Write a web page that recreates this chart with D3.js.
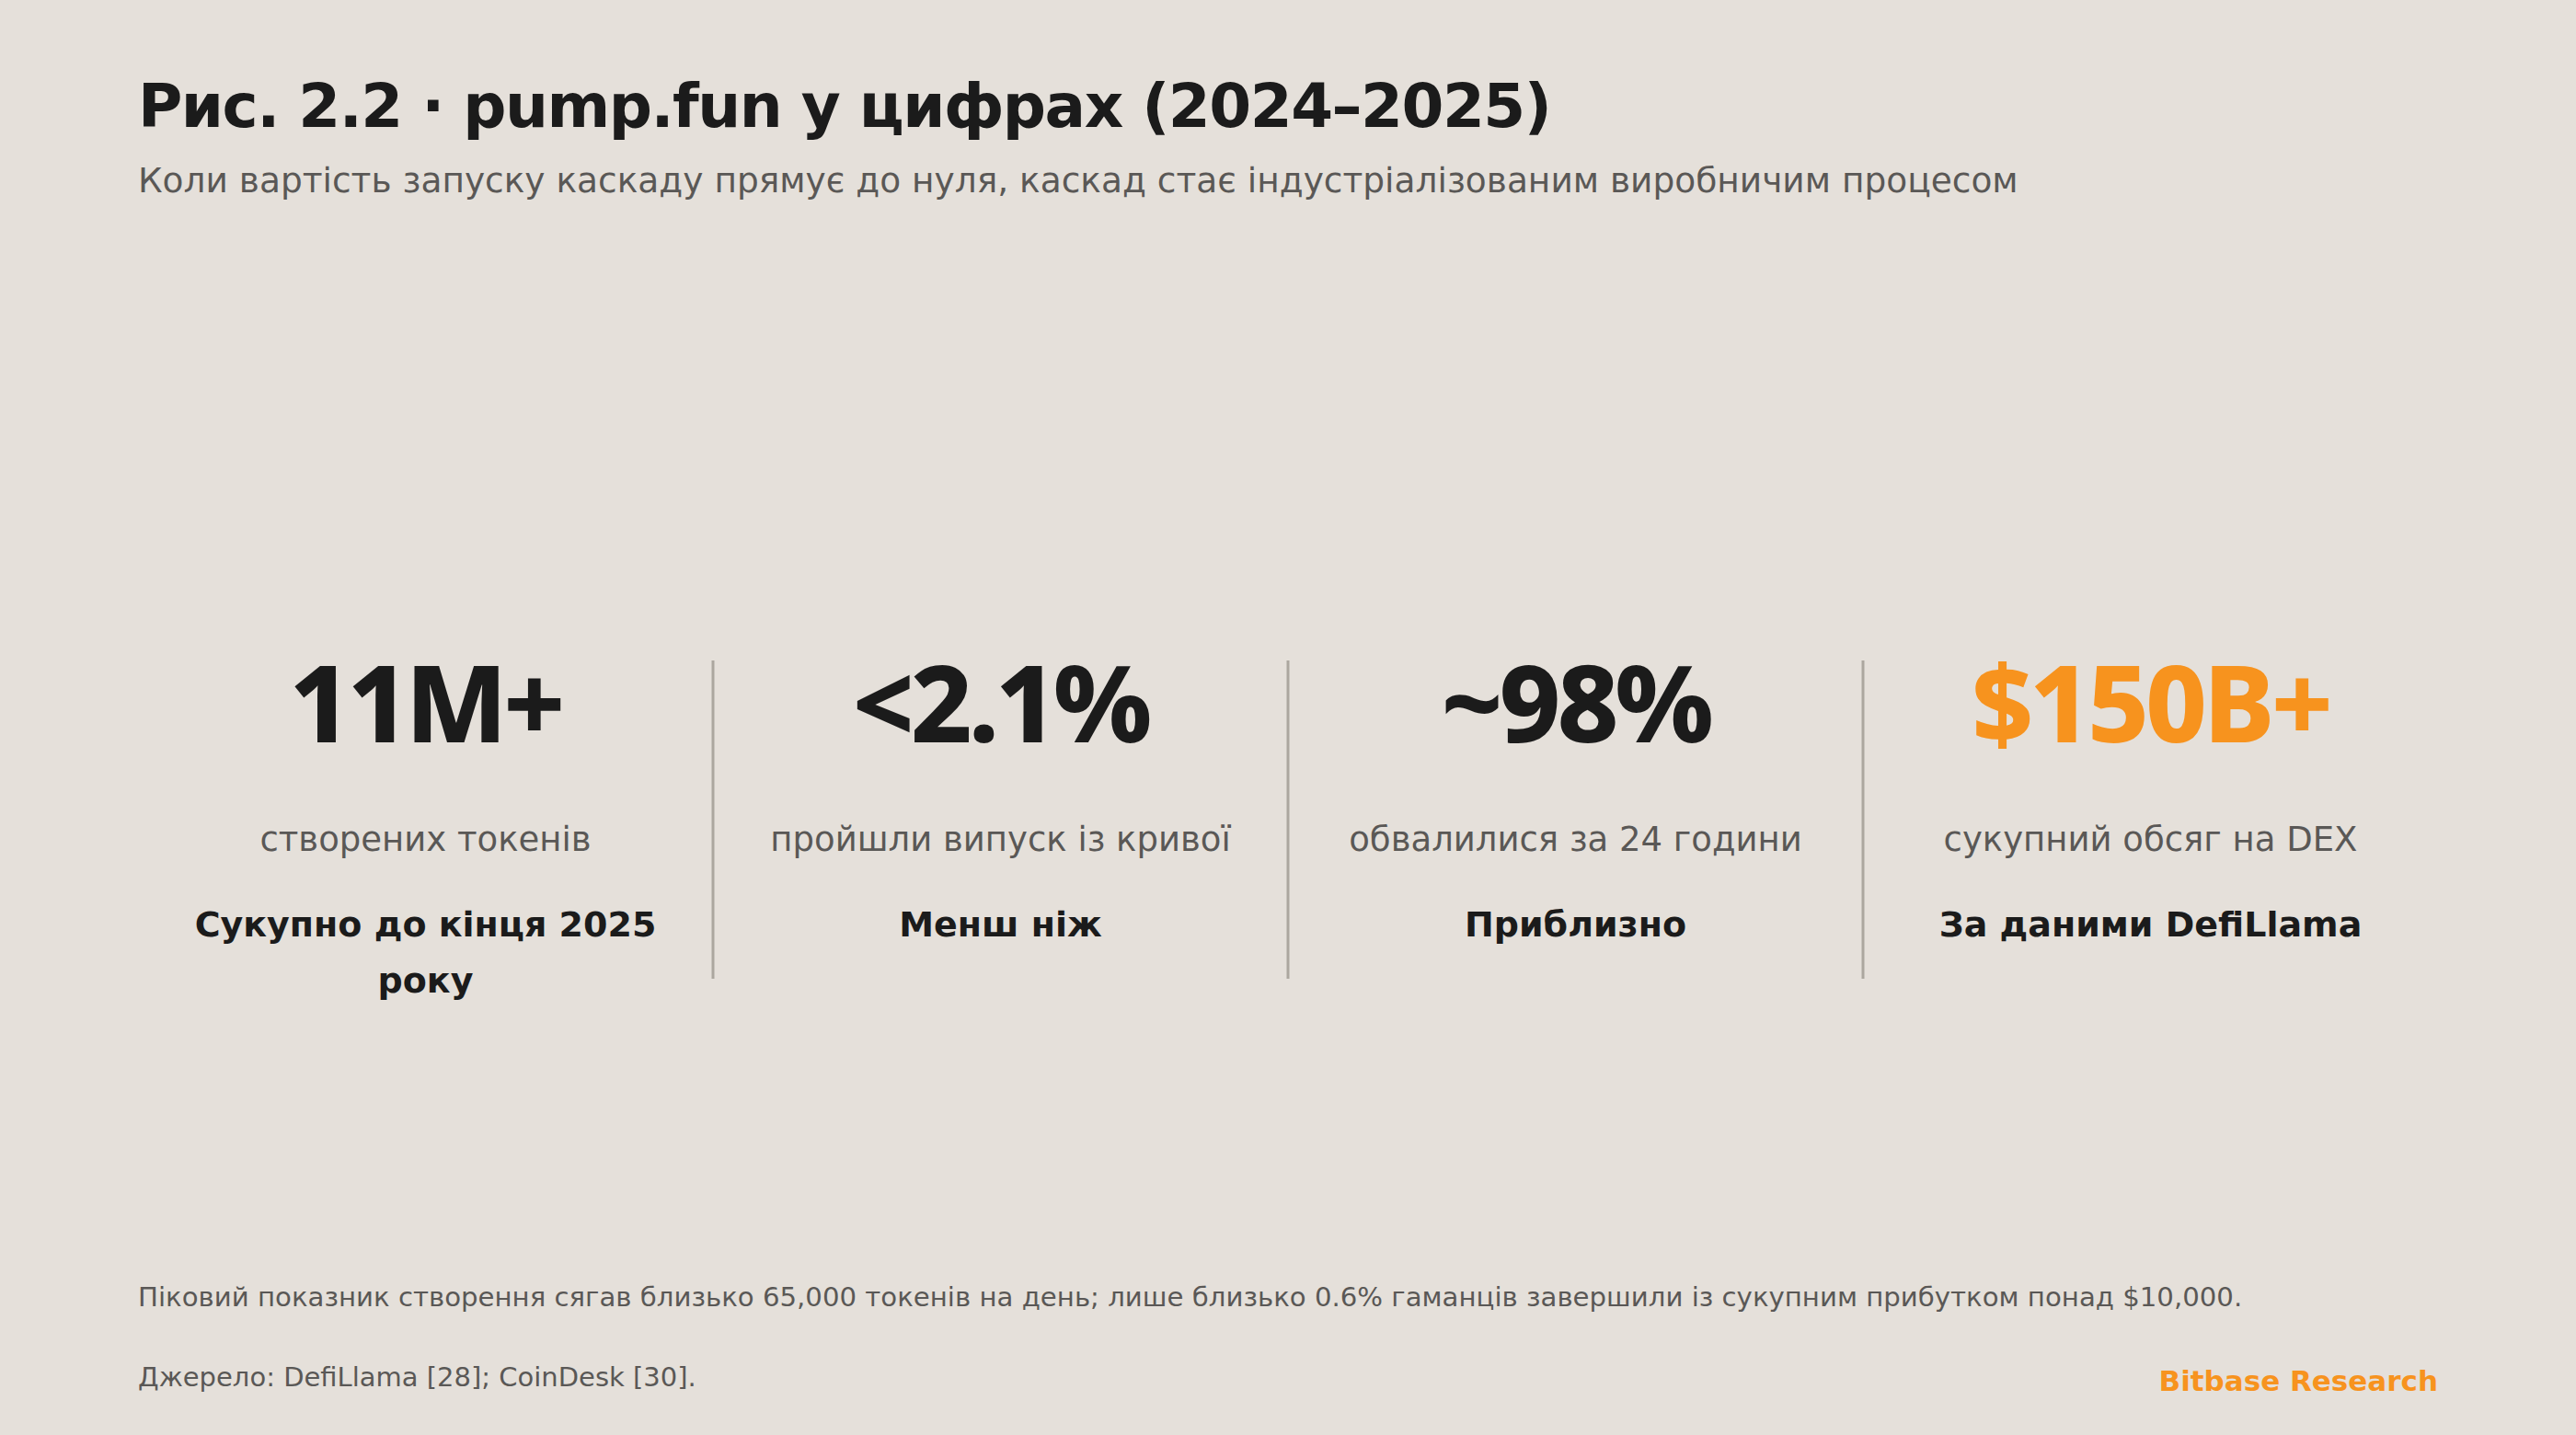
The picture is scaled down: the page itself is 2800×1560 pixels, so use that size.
<!DOCTYPE html>
<html>
<head>
<meta charset="utf-8">
<script src="https://cdn.jsdelivr.net/npm/d3@7"></script>
<style>
  html, body { margin: 0; padding: 0; background: #e5e0da; }
  svg { display: block; }
</style>
</head>
<body>
<svg id="chart"></svg>
<script>
// stat cards: pump.fun in numbers

var width = 2800;
var height = 1560;

var stats = ["11M+", "<2.1%", "~98%", "$150B+"];
var labels = ["створених токенів", "пройшли випуск із кривої", "обвалилися за 24 години", "сукупний обсяг на DEX"];
var notes = ["Сукупно до кінця 2025 року", "Менш ніж", "Приблизно", "За даними DefiLlama"];
var highlight = [false, false, false, true];

var titleText = "Рис. 2.2 · pump.fun у цифрах (2024–2025)";
var subtitleText = "Коли вартість запуску каскаду прямує до нуля, каскад стає індустріалізованим виробничим процесом";
var footText = "Піковий показник створення сягав близько 65,000 токенів на день; лише близько 0.6% гаманців завершили із сукупним прибутком понад $10,000.";
var sourceText = "Джерело: DefiLlama [28]; CoinDesk [30].";
var brandText = "Bitbase Research";

var font = "'DejaVu Sans', 'Noto Sans', sans-serif";
var bigFont = "'Noto Sans', 'Open Sans', sans-serif";
var dark = "#1b1b1b";
var grey = "#5a5856";
var orange = "#f7931e";

var svg = d3.select("#chart")
  .attr("width", width)
  .attr("height", height)
  .style("background-color", "#e5e0da");

svg.append("text")
  .attr("x", 150).attr("y", 138)
  .style("font-family", font).style("font-weight", 700)
  .style("font-size", "66px").style("fill", dark)
  .style("letter-spacing", "-1.5px")
  .text(titleText);

svg.append("text")
  .attr("x", 150).attr("y", 209)
  .style("font-family", font).style("font-size", "37.5px")
  .style("fill", grey)
  .text(subtitleText);

var x = d3.scaleBand()
  .domain(d3.range(stats.length))
  .range([150, 2650]);

var cols = svg.selectAll("g.col")
  .data(stats)
  .enter().append("g")
  .attr("class", "col")
  .attr("transform", function(d, i){ return "translate(" + (x(i) + x.bandwidth() / 2) + ",0)"; });

cols.append("text")
  .attr("y", 807)
  .attr("text-anchor", "middle")
  .style("font-family", bigFont).style("font-weight", 800)
  .style("font-size", "116px")
  .style("letter-spacing", "-4px")
  .style("fill", function(d, i){ return highlight[i] ? orange : dark; })
  .text(function(d){ return d; });

cols.append("text")
  .attr("y", 925)
  .attr("text-anchor", "middle")
  .style("font-family", font).style("font-size", "37px")
  .style("fill", grey)
  .text(function(d, i){ return labels[i]; });

var noteText = cols.append("text")
  .attr("y", 1018)
  .attr("text-anchor", "middle")
  .style("font-family", font).style("font-weight", 700)
  .style("font-size", "38px")
  .style("fill", dark)
  .text(function(d, i){ return notes[i]; });

// wrap the bold notes that are too long for a column
noteText.each(function(){
  var t = d3.select(this);
  var words = t.text().split(" ");
  var maxW = x.bandwidth() - 60;
  t.text(null);
  var line = [];
  var tspan = t.append("tspan").attr("x", 0);
  words.forEach(function(w){
    line.push(w);
    tspan.text(line.join(" "));
    if (tspan.node().getComputedTextLength() > maxW && line.length > 1) {
      line.pop();
      tspan.text(line.join(" "));
      line = [w];
      tspan = t.append("tspan").attr("x", 0).attr("dy", 61).text(w);
    }
  });
});

// dividers between the columns
svg.selectAll("line.div")
  .data(d3.range(1, stats.length))
  .enter().append("line")
  .attr("class", "div")
  .attr("x1", function(i){ return x(i); })
  .attr("x2", function(i){ return x(i); })
  .attr("y1", 718).attr("y2", 1064)
  .style("stroke", "#aca79f").style("stroke-width", 3);

svg.append("text")
  .attr("x", 150).attr("y", 1420)
  .style("font-family", font).style("font-size", "29.2px")
  .style("fill", grey)
  .text(footText);

svg.append("text")
  .attr("x", 150).attr("y", 1507)
  .style("font-family", font).style("font-size", "29px")
  .style("fill", grey)
  .text(sourceText);

svg.append("text")
  .attr("x", 2650).attr("y", 1512)
  .attr("text-anchor", "end")
  .style("font-family", font).style("font-weight", 700)
  .style("font-size", "31px")
  .style("fill", orange)
  .text(brandText);
</script>
</body>
</html>
